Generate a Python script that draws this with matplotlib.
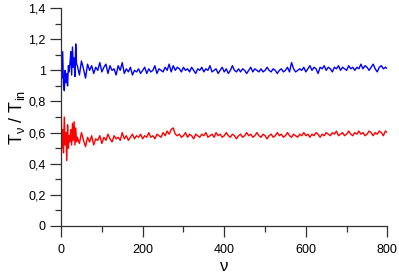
import numpy as np
import matplotlib
matplotlib.use('Agg')
import matplotlib.pyplot as plt
from matplotlib.ticker import MultipleLocator, FuncFormatter

plt.rcParams['font.family'] = ['Liberation Sans', 'DejaVu Sans']
plt.rcParams['mathtext.fontset'] = 'custom'
plt.rcParams['mathtext.rm'] = 'Liberation Sans'
plt.rcParams['mathtext.it'] = 'Liberation Sans:italic'

# === x positions: fine near the start, then every 5 ===
nu = np.concatenate([np.arange(0, 40, 2), np.arange(40, 801, 5)])

# === blue trace (upper) ===
blue_start = [1.16, 0.95, 1.12, 0.90, 0.87, 1.00, 0.92, 0.98, 0.90, 1.03,
              0.99, 1.05, 1.12, 0.97, 1.15, 1.02, 1.08, 0.96, 1.17, 1.04]
blue_rest = [
    1.03, 0.97, 1.06, 1.01, 0.95, 1.04, 1.00, 1.03, 0.98, 1.02,
    1.00, 1.05, 0.99, 1.02, 1.04, 0.98, 1.03, 1.00, 1.01, 0.97,
    1.03, 1.00, 1.05, 0.98, 1.01, 0.99, 1.02, 0.97, 1.00, 0.99,
    1.01, 0.98, 1.00, 1.02, 0.98, 1.01, 0.99, 1.00, 1.03, 0.98,
    1.01, 1.00, 0.99, 1.02, 1.00, 1.04, 0.99, 1.03, 1.00, 1.02,
    1.01, 0.99, 1.02, 1.00, 1.01, 0.99, 1.02, 1.00, 0.98, 1.01,
    1.00, 1.02, 0.99, 1.01, 1.00, 1.03, 0.99, 1.00, 1.01, 0.98,
    1.00, 1.02, 0.99, 1.01, 0.98, 1.00, 1.03, 1.00, 0.99, 1.01,
    0.99, 1.01, 1.00, 0.98, 1.00, 1.02, 0.99, 1.01, 1.00, 0.99,
    1.01, 0.99, 1.00, 1.02, 1.00, 0.99, 1.01, 1.00, 0.98, 1.00,
    1.01, 0.99, 1.00, 1.02, 0.99, 1.05, 1.01, 0.99, 1.00, 1.01,
    1.00, 1.02, 0.99, 1.01, 1.03, 1.00, 1.02, 1.01, 0.98, 1.02,
    1.01, 1.03, 1.00, 1.02, 1.01, 0.99, 1.02, 1.01, 1.03, 1.00,
    1.02, 1.01, 1.00, 1.03, 1.01, 1.02, 1.00, 1.02, 1.01, 1.04,
    1.01, 1.03, 1.02, 1.00, 1.02, 1.04, 1.01, 0.99, 1.02, 1.03,
    1.01, 1.02, 1.01]

# === red trace (lower) ===
red_start = [0.83, 0.50, 0.62, 0.47, 0.70, 0.52, 0.60, 0.42, 0.65, 0.50,
             0.58, 0.54, 0.62, 0.52, 0.66, 0.55, 0.67, 0.52, 0.63, 0.54]
red_rest = [
    0.57, 0.53, 0.60, 0.55, 0.51, 0.57, 0.54, 0.58, 0.52, 0.56,
    0.55, 0.58, 0.53, 0.57, 0.55, 0.59, 0.56, 0.54, 0.58, 0.56,
    0.57, 0.55, 0.60, 0.56, 0.58, 0.55, 0.57, 0.59, 0.56, 0.58,
    0.57, 0.59, 0.56, 0.58, 0.57, 0.60, 0.57, 0.58, 0.56, 0.59,
    0.58, 0.57, 0.60, 0.58, 0.61, 0.59, 0.62, 0.63, 0.59, 0.58,
    0.59, 0.57, 0.58, 0.60, 0.57, 0.59, 0.58, 0.56, 0.59, 0.58,
    0.57, 0.59, 0.58, 0.60, 0.57, 0.58, 0.59, 0.57, 0.60, 0.58,
    0.59, 0.57, 0.58, 0.60, 0.58, 0.57, 0.59, 0.58, 0.56, 0.58,
    0.59, 0.57, 0.58, 0.60, 0.58, 0.59, 0.57, 0.58, 0.60, 0.58,
    0.57, 0.59, 0.58, 0.56, 0.58, 0.59, 0.57, 0.58, 0.60, 0.58,
    0.59, 0.57, 0.58, 0.60, 0.58, 0.57, 0.59, 0.58, 0.57, 0.59,
    0.58, 0.60, 0.58, 0.59, 0.57, 0.59, 0.58, 0.60, 0.59, 0.57,
    0.59, 0.58, 0.60, 0.59, 0.58, 0.60, 0.59, 0.61, 0.58, 0.59,
    0.60, 0.58, 0.59, 0.61, 0.59, 0.58, 0.60, 0.59, 0.61, 0.59,
    0.60, 0.58, 0.59, 0.61, 0.60, 0.58, 0.60, 0.59, 0.61, 0.60,
    0.58, 0.61, 0.60]

blue = np.array(blue_start + blue_rest)
red = np.array(red_start + red_rest)

fig = plt.figure(figsize=(3.99, 2.80), dpi=100)
ax = fig.add_axes([0.153, 0.193, 0.818, 0.778])

ax.plot(nu, blue, color='#0000ff', lw=1.0)
ax.plot(nu, red, color='#ff0000', lw=1.0)

ax.set_xlim(0, 800)
ax.set_ylim(0, 1.4)
for side in ('top', 'right'):
    ax.spines[side].set_visible(False)
for side in ('left', 'bottom'):
    ax.spines[side].set_color('#303030')
    ax.spines[side].set_linewidth(0.9)

ax.xaxis.set_major_locator(MultipleLocator(200))
ax.xaxis.set_minor_locator(MultipleLocator(100))
ax.yaxis.set_major_locator(MultipleLocator(0.2))
ax.yaxis.set_minor_locator(MultipleLocator(0.1))
ax.yaxis.set_major_formatter(FuncFormatter(lambda v, p: f'{v:g}'.replace('.', ',')))

ax.tick_params(which='major', direction='out', length=8, width=0.9, color='#303030', labelsize=9)
ax.tick_params(which='minor', direction='out', length=4.5, width=0.9, color='#303030')
ax.tick_params(axis='x', which='major', pad=5)
ax.tick_params(axis='y', which='major', pad=3)

ax.set_xlabel('ν', fontsize=12, labelpad=2)
ax.set_ylabel(r'$\mathrm{T_\nu\ /\ T_{in}}$', fontsize=13, labelpad=1)

fig.savefig('out.png', dpi=100)
